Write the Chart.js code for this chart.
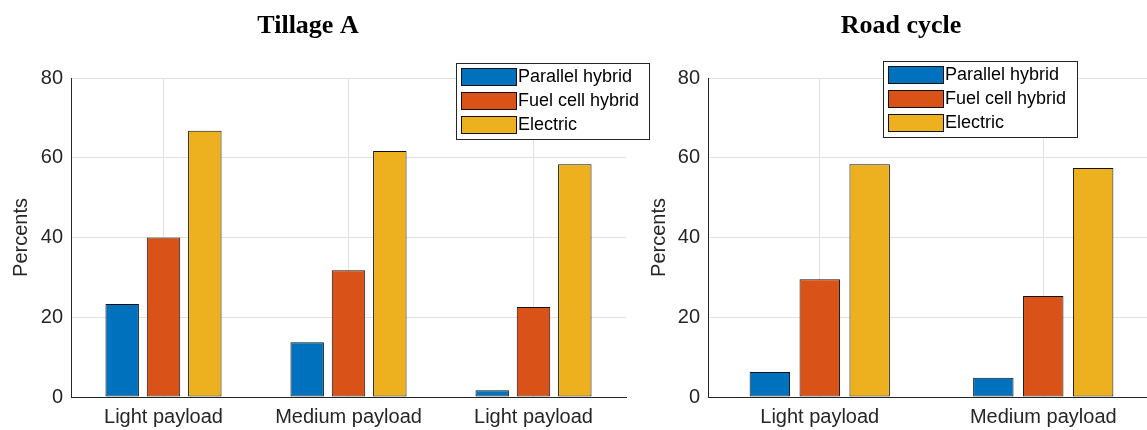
<!DOCTYPE html>
<html>
<head>
<meta charset="utf-8">
<script src="https://cdn.jsdelivr.net/npm/chart.js@4.4.0/dist/chart.umd.min.js"></script>
<style>
  html, body { margin: 0; padding: 0; background: #fff; overflow: hidden; }
  #wrap { position: relative; width: 1147px; height: 430px; overflow: hidden; }
  canvas { position: absolute; top: 0; }
</style>
</head>
<body>
<div id="wrap">
  <canvas id="tillage" width="650" height="430" style="left:0"></canvas>
  <canvas id="road" width="530" height="430" style="left:640px"></canvas>
</div>
<script>
const seriesNames = ["Parallel hybrid", "Fuel cell hybrid", "Electric"];
const seriesColors = ["#0072BD", "#D95319", "#EDB120"];

const tillageLabels = ["Light payload", "Medium payload", "Light payload"];
const tillageParallel = [23.3, 13.7, 1.7];
const tillageFuelCell = [40.0, 31.8, 22.6];
const tillageElectric = [66.8, 61.7, 58.4];

const roadLabels = ["Light payload", "Medium payload"];
const roadParallel = [6.3, 4.8];
const roadFuelCell = [29.5, 25.3];
const roadElectric = [58.4, 57.4];

const yTicks = [0, 20, 40, 60, 80];

const SANS = '"Liberation Sans", Arial, Helvetica, sans-serif';
const AXIS = "#262626";
const GRID = "#e2e2e2";

// boxed legend like matlab's, drawn from the datasets
const boxLegend = {
    id: "boxLegend",
    afterDraw(chart, args, opts) {
        const ctx = chart.ctx;
        ctx.save();
        ctx.fillStyle = "#fff";
        ctx.fillRect(opts.x, opts.y, opts.w, opts.h);
        ctx.strokeStyle = AXIS;
        ctx.lineWidth = 1;
        ctx.strokeRect(opts.x + 0.5, opts.y + 0.5, opts.w, opts.h);
        ctx.font = "18px " + SANS;
        ctx.textBaseline = "middle";
        chart.data.datasets.forEach((ds, i) => {
            const top = opts.y + 5 + i * 24;
            ctx.fillStyle = ds.backgroundColor;
            ctx.fillRect(opts.x + 5, top, 55, 17);
            ctx.strokeStyle = "#111";
            ctx.strokeRect(opts.x + 5.5, top + 0.5, 55, 17);
            ctx.fillStyle = "#000";
            ctx.fillText(ds.label, opts.x + 62, top + 9.5);
        });
        ctx.restore();
    }
};

const titleAt = {
    id: "titleAt",
    afterDraw(chart, args, opts) {
        const ctx = chart.ctx;
        ctx.save();
        ctx.font = 'bold 26px "Liberation Serif", "Times New Roman", serif';
        ctx.fillStyle = "#000";
        ctx.textAlign = "center";
        ctx.textBaseline = "alphabetic";
        ctx.fillText(opts.text, opts.x, opts.y);
        ctx.restore();
    }
};

function makeDatasets(values) {
    return values.map((vals, i) => ({
        label: seriesNames[i],
        data: vals,
        backgroundColor: seriesColors[i],
        borderColor: "#111",
        borderWidth: 1,
        borderSkipped: false,
        categoryPercentage: 0.67,
        barPercentage: 0.81
    }));
}

function makeChart(id, labels, values, o) {
    const ctx = document.getElementById(id).getContext("2d");
    return new Chart(ctx, {
        type: "bar",
        data: { labels: labels, datasets: makeDatasets(values) },
        options: {
            responsive: false,
            animation: false,
            layout: { padding: { top: 78, right: o.padRight, left: 0, bottom: 0 } },
            plugins: {
                legend: { display: false },
                tooltip: { enabled: false },
                boxLegend: o.legend,
                titleAt: o.title
            },
            scales: {
                x: {
                    offset: true,
                    grid: { offset: false, color: GRID, drawTicks: false },
                    border: { color: AXIS, width: 1 },
                    ticks: { color: AXIS, font: { size: 20, family: SANS }, padding: 8, maxRotation: 0, autoSkip: false },
                    afterFit(s) { s.height = 33; }
                },
                y: {
                    min: 0,
                    max: 80,
                    afterBuildTicks(s) { s.ticks = yTicks.map(v => ({ value: v })); },
                    grid: { color: GRID, drawTicks: false },
                    border: { color: AXIS, width: 1 },
                    ticks: { color: AXIS, font: { size: 20, family: SANS }, padding: 8 },
                    title: { display: true, text: "Percents", color: AXIS, font: { size: 20, family: SANS }, padding: { top: o.titlePad, bottom: 0 } },
                    afterFit(s) { s.width = o.yWidth; }
                }
            }
        },
        plugins: [boxLegend, titleAt]
    });
}

makeChart("tillage", tillageLabels, [tillageParallel, tillageFuelCell, tillageElectric], {
    padRight: 24,
    yWidth: 71,
    titlePad: 9,
    legend: { x: 456, y: 63, w: 193, h: 76 },
    title: { text: "Tillage A", x: 308, y: 33 }
});

makeChart("road", roadLabels, [roadParallel, roadFuelCell, roadElectric], {
    padRight: 15,
    yWidth: 68,
    titlePad: 7,
    legend: { x: 243, y: 61, w: 194, h: 76 },
    title: { text: "Road cycle", x: 261, y: 33 }
});
</script>
</body>
</html>
